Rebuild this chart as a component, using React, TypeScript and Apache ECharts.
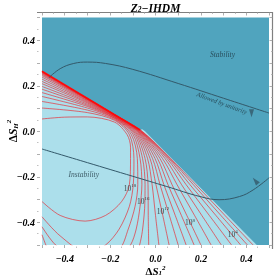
import React, { useEffect, useRef } from "react";
import * as echarts from "echarts";

// ---- data ----
const xRange = [-0.5, 0.5];
const yRange = [-0.5, 0.5];

// light (instability) region upper boundary, filled down to y = -0.5
const lightBoundary = [[-0.5, 0.266], [-0.068, 0.007], [-0.058, 0.009], [-0.046, 0.0], [0.446, -0.5]];
const redEdge = [[-0.5, 0.264], [-0.068, 0.006]];

// red contour lines, innermost (highest scale) to outermost
const lvl19 = [[-0.5, 0.054], [-0.4, 0.062], [-0.3, 0.063], [-0.18, 0.04], [-0.125, -0.015], [-0.11, -0.07], [-0.11, -0.12], [-0.115, -0.235], [-0.15, -0.31], [-0.22, -0.37], [-0.31, -0.395], [-0.42, -0.37], [-0.5, -0.309]];
const lvl18 = [[-0.5, 0.102], [-0.3, 0.082], [-0.18, 0.048], [-0.115, -0.015], [-0.095, -0.12], [-0.098, -0.235], [-0.115, -0.33], [-0.16, -0.43], [-0.22, -0.5], [-0.3, -0.535], [-0.42, -0.46], [-0.5, -0.376]];
const lvl17 = [[-0.5, 0.131], [-0.3, 0.093], [-0.18, 0.052], [-0.107, -0.014], [-0.08, -0.12], [-0.078, -0.235], [-0.09, -0.33], [-0.12, -0.43], [-0.16, -0.52], [-0.3, -0.6], [-0.44, -0.5], [-0.5, -0.42]];
const lvl16 = [[-0.5, 0.153], [-0.3, 0.102], [-0.18, 0.056], [-0.1, -0.012], [-0.068, -0.12], [-0.06, -0.235], [-0.068, -0.33], [-0.085, -0.43], [-0.11, -0.5], [-0.2, -0.62], [-0.4, -0.62], [-0.5, -0.455]];
const lvl15 = [[-0.5, 0.17], [-0.3, 0.109], [-0.18, 0.058], [-0.094, -0.011], [-0.057, -0.12], [-0.046, -0.235], [-0.048, -0.34], [-0.058, -0.44], [-0.07, -0.5], [-0.1, -0.6]];
const lvl14 = [[-0.5, 0.185], [-0.3, 0.114], [-0.18, 0.061], [-0.089, -0.01], [-0.046, -0.12], [-0.033, -0.235], [-0.032, -0.37], [-0.03, -0.5]];
const lvl13 = [[-0.5, 0.197], [-0.3, 0.119], [-0.18, 0.063], [-0.085, -0.008], [-0.035, -0.12], [-0.015, -0.235], [0.0, -0.37], [0.015, -0.5]];
const lvl12 = [[-0.5, 0.209], [-0.3, 0.124], [-0.18, 0.064], [-0.081, -0.007], [-0.024, -0.12], [0.002, -0.235], [0.032, -0.37], [0.06, -0.5]];
const lvl11 = [[-0.5, 0.219], [-0.3, 0.128], [-0.18, 0.066], [-0.078, -0.005], [-0.013, -0.12], [0.02, -0.235], [0.061, -0.37], [0.1, -0.5]];
const lvl10 = [[-0.5, 0.229], [-0.3, 0.132], [-0.18, 0.068], [-0.075, -0.004], [-0.002, -0.12], [0.037, -0.235], [0.087, -0.37], [0.135, -0.5]];
const lvl9 = [[-0.5, 0.238], [-0.3, 0.135], [-0.18, 0.069], [-0.073, -0.003], [0.009, -0.12], [0.055, -0.235], [0.114, -0.37], [0.17, -0.5]];
const lvl8 = [[-0.5, 0.245], [-0.3, 0.138], [-0.18, 0.07], [-0.071, -0.002], [0.02, -0.12], [0.073, -0.235], [0.138, -0.37], [0.2, -0.5]];
const lvl7 = [[-0.5, 0.25], [-0.3, 0.14], [-0.18, 0.071], [-0.069, -0.001], [0.031, -0.12], [0.095, -0.235], [0.172, -0.37], [0.245, -0.5]];
const lvl6 = [[-0.5, 0.254], [-0.3, 0.141], [-0.18, 0.072], [-0.068, 0.0], [0.042, -0.12], [0.115, -0.235], [0.204, -0.37], [0.29, -0.5]];
const lvl5 = [[-0.5, 0.257], [-0.3, 0.143], [-0.18, 0.072], [-0.067, 0.001], [0.051, -0.12], [0.135, -0.235], [0.237, -0.37], [0.335, -0.5]];
const lvl4 = [[-0.5, 0.259], [-0.3, 0.143], [-0.18, 0.072], [-0.066, 0.002], [0.058, -0.12], [0.152, -0.235], [0.266, -0.37], [0.375, -0.5]];
const lvl3 = [[-0.5, 0.261], [-0.3, 0.144], [-0.18, 0.073], [-0.065, 0.003], [0.063, -0.12], [0.167, -0.235], [0.288, -0.37], [0.405, -0.5]];
const lvl2 = [[-0.5, 0.262], [-0.3, 0.145], [-0.18, 0.073], [-0.064, 0.004], [0.067, -0.12], [0.178, -0.235], [0.306, -0.37], [0.43, -0.5]];
const contours = [lvl19, lvl18, lvl17, lvl16, lvl15, lvl14, lvl13, lvl12, lvl11, lvl10, lvl9, lvl8, lvl7, lvl6, lvl5, lvl4, lvl3, lvl2];

// contour labels
const contourLabelText = ["18", "16", "12", "8", "4"];
const contourLabelPos = [[-0.112, -0.248], [-0.054, -0.305], [0.033, -0.35], [0.152, -0.4], [0.34, -0.451]];

// dark curves
const unitarityCurve = [[-0.47, 0.235], [-0.42, 0.275], [-0.36, 0.298], [-0.3, 0.304], [-0.22, 0.298], [-0.1, 0.272], [0.1, 0.21], [0.3, 0.145], [0.5, 0.08]];
const instabilityCurve = [[-0.5, -0.078], [-0.3, -0.138], [-0.1, -0.198], [0.05, -0.243], [0.196, -0.287], [0.28, -0.301], [0.37, -0.287], [0.43, -0.258], [0.5, -0.205]];
const arrowPos = [[0.423, 0.079], [0.44, -0.218]];
const arrowRot = [180, 40];

// region texts
const regionTexts = ["Stability", "Instability"];
const regionTextPos = [[0.295, 0.336], [-0.316, -0.189]];
const unitarityText = "Allowed by unitarity";
const unitarityTextPos = [0.293, 0.125];

const SERIF = "'Liberation Serif', 'DejaVu Serif', serif";
const DARK = "#50a4be";
const LIGHT = "#acdfeb";
const RED = "#ee1c25";
const CURVE = "#33596a";

const fmt = (v: number) => {
  const r = Math.round(v * 10);
  if (r % 2 !== 0) return "";
  const s = Math.abs(v).toFixed(1);
  return v < -1e-9 ? "\u2212" + s : s;
};

export default function App() {
  const ref = useRef<HTMLDivElement>(null);
  useEffect(() => {
    if (!ref.current) return;
    const chart = echarts.init(ref.current, undefined, { renderer: "svg" });
    const tickLabel = {
      fontFamily: SERIF,
      fontStyle: "italic",
      fontWeight: "bold",
      fontSize: 10,
      color: "#000",
    };
    const series: any[] = [];
    series.push({
      type: "line",
      data: lightBoundary,
      symbol: "none",
      lineStyle: { width: 0 },
      areaStyle: { color: LIGHT, opacity: 1, origin: "start" },
      z: 1,
      silent: true,
    });
    contours.forEach((c) => {
      series.push({
        type: "line",
        data: c,
        symbol: "none",
        smooth: 0.3,
        lineStyle: { color: RED, width: 0.7, opacity: 0.9 },
        z: 2,
        silent: true,
      });
    });
    series.push({
      type: "line",
      data: redEdge,
      symbol: "none",
      lineStyle: { color: "#ff0a0a", width: 1.6 },
      z: 2,
      silent: true,
    });
    [unitarityCurve, instabilityCurve].forEach((c) => {
      series.push({
        type: "line",
        data: c,
        symbol: "none",
        smooth: 0.4,
        lineStyle: { color: CURVE, width: 1 },
        z: 3,
        silent: true,
      });
    });
    series.push({
      type: "scatter",
      data: arrowPos.map((p, i) => ({ value: p, symbolRotate: arrowRot[i] })),
      symbol: "triangle",
      symbolSize: [5, 8],
      itemStyle: { color: CURVE },
      z: 4,
      silent: true,
    });
    series.push({
      type: "scatter",
      data: contourLabelPos.map((p, i) => ({ value: p, name: contourLabelText[i] })),
      symbolSize: 1,
      itemStyle: { color: "rgba(0,0,0,0)" },
      label: {
        show: true,
        position: "inside",
        formatter: (p: any) => "{a|10}{s|" + p.name + "}",
        rich: {
          a: { fontFamily: SERIF, fontSize: 7.5, color: "#1a1a1a", lineHeight: 9, verticalAlign: "bottom" },
          s: { fontFamily: SERIF, fontSize: 5, color: "#1a1a1a", lineHeight: 5, verticalAlign: "top" },
        },
      },
      z: 5,
      silent: true,
    });
    series.push({
      type: "scatter",
      data: regionTextPos.map((p, i) => ({ value: p, name: regionTexts[i] })),
      symbolSize: 1,
      itemStyle: { color: "rgba(0,0,0,0)" },
      label: {
        show: true,
        position: "inside",
        formatter: (p: any) => p.name,
        fontFamily: SERIF,
        fontStyle: "italic",
        fontSize: 7.5,
        color: "#1d3540",
      },
      z: 5,
      silent: true,
    });
    series.push({
      type: "scatter",
      data: [{ value: unitarityTextPos, name: unitarityText }],
      symbolSize: 1,
      itemStyle: { color: "rgba(0,0,0,0)" },
      label: {
        show: true,
        position: "inside",
        rotate: -20,
        formatter: (p: any) => p.name,
        fontFamily: SERIF,
        fontStyle: "italic",
        fontSize: 6.5,
        color: "#1d3540",
      },
      z: 5,
      silent: true,
    });

    const axisCommon = {
      type: "value",
      interval: 0.1,
      axisLine: { show: false, onZero: false },
      splitLine: { show: false },
      axisTick: { show: true, inside: true, length: 3, lineStyle: { color: "#9a9a9a", width: 0.8 } },
      minorTick: { show: true, splitNumber: 2, length: 1.5, lineStyle: { color: "#b0b0b0", width: 0.8 } },
    };

    chart.setOption({
      animation: false,
      grid: {
        left: 42,
        top: 17.5,
        width: 227,
        height: 227.5,
        show: true,
        backgroundColor: DARK,
        borderWidth: 0,
      },
      xAxis: [
        { ...axisCommon, min: xRange[0], max: xRange[1], position: "bottom", offset: 3, axisLabel: { ...tickLabel, margin: 5, formatter: fmt } },
        { ...axisCommon, min: xRange[0], max: xRange[1], position: "top", offset: 5, axisLabel: { show: false } },
      ],
      yAxis: [
        { ...axisCommon, min: yRange[0], max: yRange[1], position: "left", offset: 5, axisLabel: { ...tickLabel, margin: 2, formatter: fmt } },
        { ...axisCommon, min: yRange[0], max: yRange[1], position: "right", offset: 3.5, axisLabel: { show: false } },
      ],
      graphic: [
        {
          type: "text",
          x: 155.5,
          y: 7,
          style: {
            text: "{a|Z}{s|2}{a|\u2212IHDM}",
            align: "center",
            verticalAlign: "middle",
            rich: {
              a: { fontFamily: SERIF, fontStyle: "italic", fontWeight: "bold", fontSize: 11.5, fill: "#000", lineHeight: 13, verticalAlign: "bottom" },
              s: { fontFamily: SERIF, fontStyle: "italic", fontWeight: "bold", fontSize: 7.5, fill: "#000", lineHeight: 7, verticalAlign: "bottom" },
            },
          },
        },
        {
          type: "text",
          x: 155.5,
          y: 270.5,
          style: {
            text: "{a|\u0394}{b|S}{s|1}{p|2}",
            align: "center",
            verticalAlign: "middle",
            rich: {
              a: { fontFamily: SERIF, fontWeight: "bold", fontSize: 11, fill: "#000", lineHeight: 12, verticalAlign: "bottom" },
              b: { fontFamily: SERIF, fontStyle: "italic", fontWeight: "bold", fontSize: 11, fill: "#000", lineHeight: 12, verticalAlign: "bottom" },
              s: { fontFamily: SERIF, fontStyle: "italic", fontWeight: "bold", fontSize: 7, fill: "#000", lineHeight: 7, verticalAlign: "bottom" },
              p: { fontFamily: SERIF, fontStyle: "italic", fontWeight: "bold", fontSize: 7, fill: "#000", lineHeight: 7, verticalAlign: "top" },
            },
          },
        },
        {
          type: "text",
          x: 12,
          y: 131,
          rotation: Math.PI / 2,
          style: {
            text: "{a|\u0394}{b|S}{s|H}{p|2}",
            align: "center",
            verticalAlign: "middle",
            rich: {
              a: { fontFamily: SERIF, fontWeight: "bold", fontSize: 11.5, fill: "#000", lineHeight: 14, verticalAlign: "bottom" },
              b: { fontFamily: SERIF, fontStyle: "italic", fontWeight: "bold", fontSize: 11.5, fill: "#000", lineHeight: 14, verticalAlign: "bottom" },
              s: { fontFamily: SERIF, fontStyle: "italic", fontWeight: "bold", fontSize: 7, fill: "#000", lineHeight: 7, verticalAlign: "bottom" },
              p: { fontFamily: SERIF, fontStyle: "italic", fontWeight: "bold", fontSize: 7, fill: "#000", lineHeight: 7, verticalAlign: "top" },
            },
          },
        },
        {
          type: "line",
          shape: { x1: 37, y1: 12.5, x2: 273, y2: 12.5 },
          style: { stroke: "#808080", lineWidth: 1.2 },
        },
        {
          type: "line",
          shape: { x1: 272.5, y1: 12, x2: 272.5, y2: 249 },
          style: { stroke: "#808080", lineWidth: 1.2 },
        },
      ],
      series,
    });
    return () => chart.dispose();
  }, []);
  return <div ref={ref} style={{ position: "fixed", left: 0, top: 0, width: 275, height: 278 }} />;
}
